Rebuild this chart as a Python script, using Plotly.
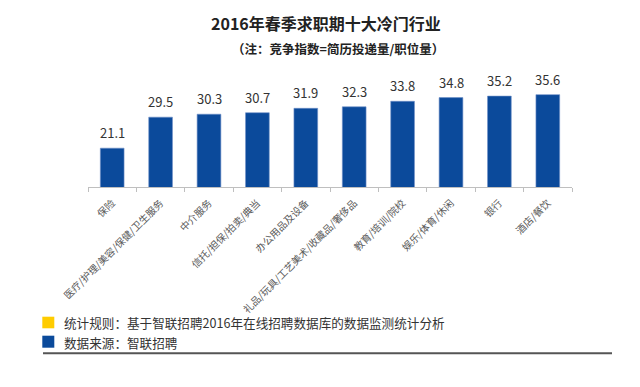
import plotly.graph_objects as go

categories = ["保险", "医疗/护理/美容/保健/卫生服务", "中介服务", "信托/担保/拍卖/典当",
              "办公用品及设备", "礼品/玩具/工艺美术/收藏品/奢侈品", "教育/培训/院校",
              "娱乐/体育/休闲", "银行", "酒店/餐饮"]
values = [21.1, 29.5, 30.3, 30.7, 31.9, 32.3, 33.8, 34.8, 35.2, 35.6]
value_labels = [f"{v:.1f}" for v in values]

title = "2016年春季求职期十大冷门行业"
subtitle = "（注：竞争指数=简历投递量/职位量）"
note_rule = "统计规则：基于智联招聘2016年在线招聘数据库的数据监测统计分析"
note_source = "数据来源：智联招聘"

W, H = 640, 387
FONT = "Noto Sans CJK SC, Noto Sans, sans-serif"
BLUE = "#0B4A9B"
YELLOW = "#FFCC00"


def px(x):
    return x / W


def py(y):
    return 1 - y / H


fig = go.Figure(go.Bar(
    x=categories, y=values,
    marker=dict(color=BLUE, line=dict(color="#6f8fc8", width=0.6)),
    hoverinfo="skip",
))

for cat, val, lab in zip(categories, values, value_labels):
    fig.add_annotation(x=cat, y=val, xref="x", yref="y", text=lab, showarrow=False,
                       xanchor="center", yanchor="middle", yshift=15.5,
                       font=dict(size=13, color="#333333", family=FONT))

fig.update_layout(
    width=W, height=H, margin=dict(l=0, r=0, t=0, b=0, autoexpand=False),
    paper_bgcolor="white", plot_bgcolor="white",
    showlegend=False, bargap=0.51,
    font=dict(family=FONT),
    xaxis=dict(domain=[px(88), px(572)], showline=True, linecolor="#bfbfbf", linewidth=1,
               ticks="outside", tickson="boundaries", ticklen=4, tickcolor="#bfbfbf",
               tickangle=-45, tickfont=dict(size=10, color="#595959", family=FONT),
               ticklabelstandoff=5,
               showgrid=False, fixedrange=True, automargin=False),
    yaxis=dict(domain=[py(187.3), py(78.4)], range=[10.5, 40], visible=False,
               showgrid=False, fixedrange=True, automargin=False),
)

fig.add_annotation(text=f"<b>{title}</b>", x=px(326), y=py(23), xref="paper", yref="paper",
                   showarrow=False, font=dict(size=16, color="#222222", family=FONT),
                   xanchor="center", yanchor="middle")
fig.add_annotation(text=f"<b>{subtitle}</b>", x=px(338), y=py(49), xref="paper", yref="paper",
                   showarrow=False, font=dict(size=12.5, color="#222222", family=FONT),
                   xanchor="center", yanchor="middle")

fig.add_shape(type="rect", xref="paper", yref="paper", x0=px(42.3), x1=px(54.3),
              y0=py(328.3), y1=py(316.7), fillcolor=YELLOW, line=dict(width=0))
fig.add_shape(type="rect", xref="paper", yref="paper", x0=px(42.3), x1=px(54.3),
              y0=py(347.7), y1=py(335.7), fillcolor=BLUE, line=dict(width=0))
fig.add_annotation(text=note_rule, x=px(62), y=py(322), xref="paper", yref="paper",
                   showarrow=False, font=dict(size=12.6, color="#333333", family=FONT),
                   xanchor="left", yanchor="middle")
fig.add_annotation(text=note_source, x=px(62), y=py(342), xref="paper", yref="paper",
                   showarrow=False, font=dict(size=12.6, color="#333333", family=FONT),
                   xanchor="left", yanchor="middle")
fig.add_shape(type="line", xref="paper", yref="paper", x0=px(43), x1=px(612),
              y0=py(353.3), y1=py(353.3), line=dict(color="#555555", width=2))

fig.write_html("out.html", config={"displayModeBar": False, "staticPlot": True},
               post_script="document.body.style.margin='0';")
